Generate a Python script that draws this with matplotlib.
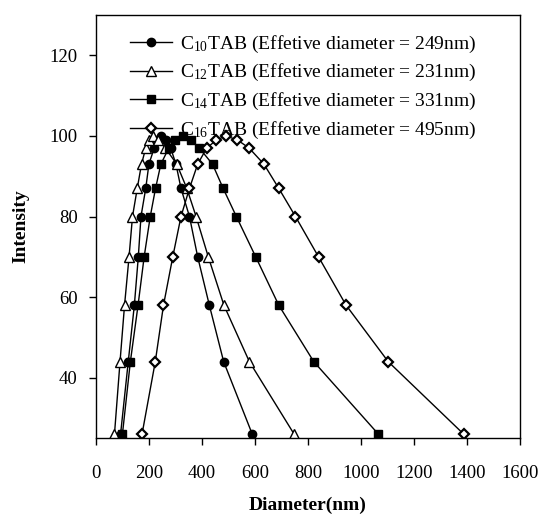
# DLS size distribution of CnTAB samples

import matplotlib.pyplot as plt

plt.rcParams['font.family'] = ['Liberation Serif', 'DejaVu Serif']
plt.rcParams['mathtext.fontset'] = 'custom'
plt.rcParams['mathtext.rm'] = 'Liberation Serif'
plt.rcParams['mathtext.it'] = 'Liberation Serif:italic'
plt.rcParams['mathtext.bf'] = 'Liberation Serif:bold'

# intensity profile shared by all samples
intensity = [26, 44, 58, 70, 80, 87, 93, 97, 99, 100, 99, 97, 93, 87, 80, 70, 58, 44, 26]

# diameters (nm)
d_c10 = [93, 122, 145, 160, 170, 188, 200, 220, 232, 245, 265, 282, 302, 321, 353, 384, 428, 482, 590]
d_c12 = [70, 91, 108, 125, 138, 156, 172, 188, 200, 215, 235, 262, 305, 343, 378, 424, 483, 579, 748]
d_c14 = [100, 130, 159, 182, 205, 225, 245, 275, 300, 328, 359, 390, 440, 480, 530, 603, 690, 822, 1066]
d_c16 = [174, 224, 255, 290, 321, 353, 384, 418, 455, 490, 534, 578, 634, 690, 753, 840, 944, 1103, 1388]

labels = [r'C$_\mathregular{10}$TAB (Effetive diameter = 249nm)',
          r'C$_\mathregular{12}$TAB (Effetive diameter = 231nm)',
          r'C$_\mathregular{14}$TAB (Effetive diameter = 331nm)',
          r'C$_\mathregular{16}$TAB (Effetive diameter = 495nm)']

fig = plt.figure(figsize=(5.45, 5.18), dpi=100)
ax = fig.add_axes([0.176, 0.154, 0.778, 0.817])

ax.plot(d_c10, intensity, color='black', lw=1, marker='o', ms=6,
        mfc='black', mec='black', label=labels[0])
ax.plot(d_c12, intensity, color='black', lw=1, marker='^', ms=6.5,
        mfc='white', mec='black', mew=1, label=labels[1])
ax.plot(d_c14, intensity, color='black', lw=1, marker='s', ms=6,
        mfc='black', mec='black', label=labels[2])
ax.plot(d_c16, intensity, color='black', lw=1, marker='D', ms=5.5,
        mfc='white', mec='black', mew=1.6, label=labels[3])

ax.set_xlim(0, 1600)
ax.set_ylim(25, 130)
ax.set_xticks(range(0, 1601, 200))
ax.set_yticks([40, 60, 80, 100, 120])

ax.tick_params(axis='x', direction='out', length=5, width=1, pad=14, labelsize=13.5)
ax.tick_params(axis='y', direction='out', length=5, width=1, pad=8, labelsize=13.5)
for s in ax.spines.values():
    s.set_linewidth(1)

ax.set_xlabel('Diameter(nm)', fontsize=14, fontweight='bold', labelpad=11)
ax.set_ylabel('Intensity', fontsize=14, fontweight='bold', labelpad=15)

ax.legend(loc='upper left', bbox_to_anchor=(0.061, 0.975), frameon=False,
          fontsize=14, handlelength=2.2, handletextpad=0.4, labelspacing=0.4,
          borderaxespad=0)

plt.savefig('out.png', dpi=100)
